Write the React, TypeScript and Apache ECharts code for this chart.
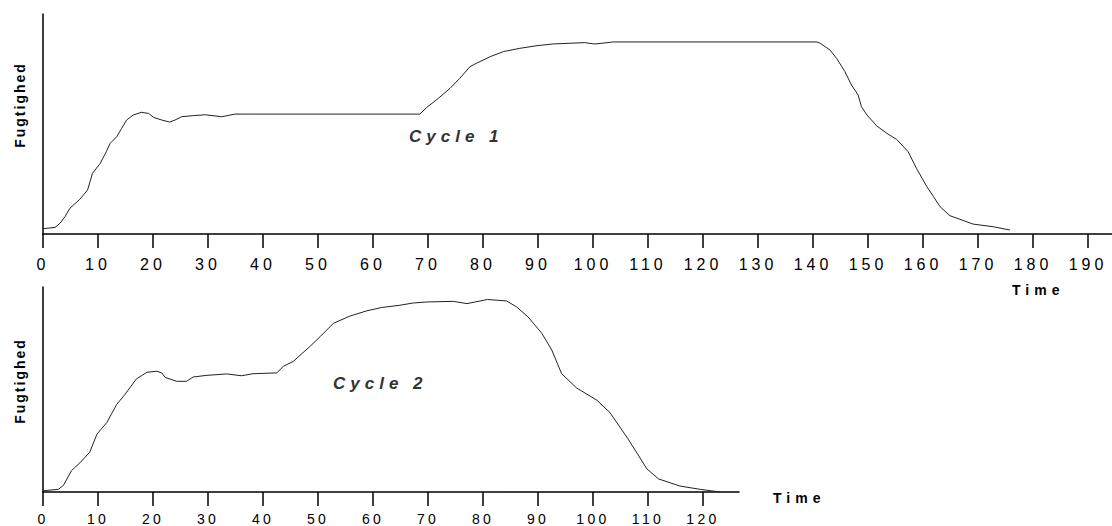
import React, { useEffect, useRef } from "react";
import * as echarts from "echarts";

// Cycle 1 (upper chart)
const cycle1Time = [
  0, 2.2, 3.1, 4.0, 4.9, 6.7, 8.1, 9.0, 10.4, 11.5,
  12.2, 13.4, 14.3, 15.2, 16.4, 17.9, 19.2, 20.1, 21.6, 23.0,
  24.0, 25.2, 27.3, 29.5, 32.5, 34.9, 38.5, 68.5, 69.8, 71.9,
  74.0, 75.8, 77.6, 78.8, 81.3, 83.7, 86.7, 89.8, 92.8, 95.8,
  98.5, 100.1, 100.9, 103.7, 140.7, 141.3, 143.1, 144.3, 145.8, 147.0,
  148.2, 148.8, 149.8, 151.6, 153.4, 155.2, 157.3, 158.8, 160.7, 161.9,
  163.1, 164.9, 166.7, 169.1, 172.8, 175.8,
];
const cycle1Humidity = [
  2.4, 3.0, 4.9, 7.9, 11.7, 15.8, 20, 27.6, 32.1, 37.4,
  41.2, 44.2, 48, 51.8, 54.1, 55.3, 54.8, 53, 51.8, 50.9,
  51.8, 53.3, 53.8, 54.2, 53.3, 54.5, 54.5, 54.5, 57.6, 61.7,
  66.2, 70.8, 76, 77.6, 80.6, 82.9, 84.4, 85.6, 86.4, 86.7,
  87, 86.4, 86.5, 87.3, 87.3, 86.7, 83.6, 79.8, 73.8, 67.7,
  63.2, 57.9, 54.1, 49.1, 45.8, 43, 37.4, 29.9, 21.5, 17,
  12.4, 8.3, 6.7, 4.5, 3.3, 1.8,
];

// Cycle 2 (lower chart)
const cycle2Time = [
  0, 2.8, 3.7, 5.2, 6.7, 8.5, 9.8, 11.6, 13.4, 14.9,
  17.0, 18.9, 20.7, 21.6, 22.2, 24.3, 26.1, 27.3, 29.8, 33.4,
  36.1, 38.2, 42.5, 43.7, 45.5, 48.5, 50.4, 52.8, 55.8, 58.9,
  61.6, 64.9, 67.3, 69.8, 74.6, 77.1, 80.8, 84.3, 86.1, 88.2,
  90.7, 92.5, 94.3, 97.0, 100.7, 103.1, 106.4, 109.8, 111.9, 115.8,
  119.5, 123.1,
];
const cycle2Humidity = [
  0.6, 1.3, 3.2, 10.5, 14.2, 19.4, 28.2, 33.9, 42.7, 47.6,
  55.2, 58.4, 58.9, 58.1, 55.9, 54, 54, 56.1, 56.9, 57.6,
  56.7, 57.7, 58.1, 61.3, 63.7, 70.9, 75.8, 82.3, 85.8, 88.4,
  90, 91.1, 92.2, 92.7, 93, 91.9, 93.9, 93.2, 90.3, 85.4,
  77.4, 69.3, 57.7, 50.8, 44.8, 38.7, 25.8, 11.3, 6.4, 2.9,
  1.3, 0,
];

const topTicks = [0, 10, 20, 30, 40, 50, 60, 70, 80, 90, 100, 110, 120, 130, 140, 150, 160, 170, 180, 190];
const bottomTicks = [0, 10, 20, 30, 40, 50, 60, 70, 80, 90, 100, 110, 120];

const yTitle = "Fugtighed";
const xTitle = "Time";
const cycleLabels = ["Cycle 1", "Cycle 2"];

const FONT = "'Liberation Sans', Arial, sans-serif";

export default function App() {
  const ref = useRef<HTMLDivElement>(null);

  useEffect(() => {
    document.body.style.margin = "0";
    const el = ref.current!;
    const chart = echarts.init(el, null, { renderer: "svg" });

    const pairs = (t: number[], v: number[]) => t.map((x, i) => [x, v[i]]);

    const axisLineStyle = { color: "#000", width: 1.5 };

    const option: any = {
      animation: false,
      backgroundColor: "#fff",
      grid: [
        { left: 43, top: 14, height: 220, right: 0 },
        { left: 43, top: 287, height: 206, width: 696 },
      ],
      xAxis: [
        {
          gridIndex: 0,
          type: "value",
          min: 0,
          max: 194.36,
          splitLine: { show: false },
          axisLine: { onZero: false, lineStyle: axisLineStyle },
          axisTick: { customValues: topTicks, length: 14, lineStyle: axisLineStyle },
          axisLabel: {
            customValues: topTicks,
            fontSize: 16,
            fontFamily: FONT,
            color: "#000",
            margin: 22,
          },
        },
        {
          gridIndex: 1,
          type: "value",
          min: 0,
          max: 126.55,
          splitLine: { show: false },
          axisLine: { onZero: false, lineStyle: axisLineStyle },
          axisTick: { customValues: bottomTicks, length: 14, lineStyle: axisLineStyle },
          axisLabel: {
            customValues: bottomTicks,
            fontSize: 14,
            fontFamily: FONT,
            color: "#000",
            margin: 20,
          },
        },
      ],
      yAxis: [0, 1].map((g) => ({
        gridIndex: g,
        type: "value",
        min: 0,
        max: 100,
        splitLine: { show: false },
        axisLine: { show: true, onZero: false, lineStyle: axisLineStyle },
        axisTick: { show: false },
        axisLabel: { show: false },
      })),
      series: [
        {
          type: "line",
          xAxisIndex: 0,
          yAxisIndex: 0,
          data: pairs(cycle1Time, cycle1Humidity),
          showSymbol: false,
          symbol: "none",
          lineStyle: { color: "#222", width: 1 },
        },
        {
          type: "line",
          xAxisIndex: 1,
          yAxisIndex: 1,
          data: pairs(cycle2Time, cycle2Humidity),
          showSymbol: false,
          symbol: "none",
          lineStyle: { color: "#222", width: 1 },
        },
      ],
      graphic: [
        {
          type: "text",
          x: 20,
          y: 105,
          rotation: Math.PI / 2,
          style: {
            text: yTitle,
            fontSize: 14,
            fontWeight: "bold",
            fontFamily: FONT,
            fill: "#000",
            align: "center",
            verticalAlign: "middle",
          },
        },
        {
          type: "text",
          x: 20,
          y: 381,
          rotation: Math.PI / 2,
          style: {
            text: yTitle,
            fontSize: 14,
            fontWeight: "bold",
            fontFamily: FONT,
            fill: "#000",
            align: "center",
            verticalAlign: "middle",
          },
        },
        {
          type: "text",
          x: 1012,
          y: 290,
          style: {
            text: xTitle,
            fontSize: 14,
            fontWeight: "bold",
            fontFamily: FONT,
            fill: "#000",
            align: "left",
            verticalAlign: "middle",
          },
        },
        {
          type: "text",
          x: 773,
          y: 498,
          style: {
            text: xTitle,
            fontSize: 14,
            fontWeight: "bold",
            fontFamily: FONT,
            fill: "#000",
            align: "left",
            verticalAlign: "middle",
          },
        },
        {
          type: "text",
          x: 409,
          y: 136,
          style: {
            text: cycleLabels[0],
            fontSize: 17,
            fontWeight: "bold",
            fontStyle: "italic",
            fontFamily: FONT,
            fill: "#333",
            align: "left",
            verticalAlign: "middle",
          },
        },
        {
          type: "text",
          x: 333,
          y: 383,
          style: {
            text: cycleLabels[1],
            fontSize: 17,
            fontWeight: "bold",
            fontStyle: "italic",
            fontFamily: FONT,
            fill: "#333",
            align: "left",
            verticalAlign: "middle",
          },
        },
      ],
    };

    chart.setOption(option);

    const applySpacing = () => {
      el.querySelectorAll("text").forEach((t) => {
        const s = (t.textContent || "").trim();
        let sp = 0;
        if (s === xTitle) sp = 5;
        else if (s.startsWith("Cycle")) sp = 5;
        else if (s === yTitle) sp = 2;
        else if (/^\d+$/.test(s)) {
          const r = t.getBoundingClientRect();
          sp = r.top < 300 ? 4 : 3.3;
        }
        if (sp) t.setAttribute("letter-spacing", String(sp));
      });
    };
    applySpacing();
    chart.on("finished", applySpacing);

    return () => {
      chart.dispose();
    };
  }, []);

  return (
    <div
      ref={ref}
      style={{ position: "absolute", left: 0, top: 0, width: 1112, height: 526 }}
    />
  );
}
